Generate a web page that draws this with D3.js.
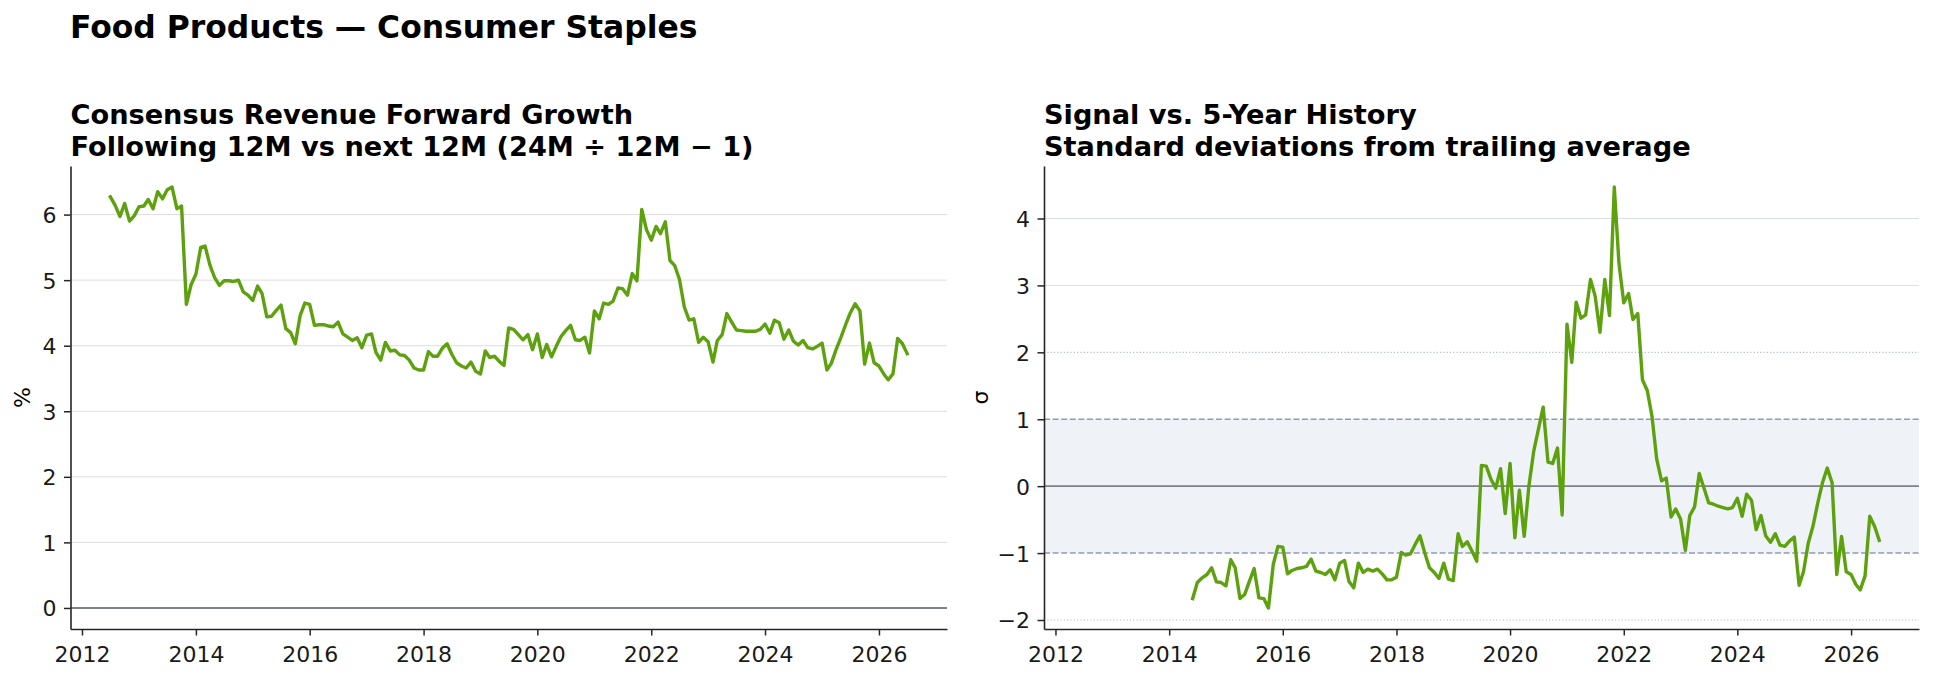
<!DOCTYPE html>
<html><head><meta charset="utf-8">
<script src="https://cdn.jsdelivr.net/npm/d3@7"></script>
<style>
body{margin:0;background:#fff;}
svg{display:block;font-family:"DejaVu Sans",sans-serif;}
</style></head><body>
<svg id="c" width="1934" height="679"></svg>
<script>
// ---------------- data ----------------
const startYear = 2012, startMonthIndex = 6; // July 2012, monthly observations
const growthPct = [
 6.27, 6.14, 5.97, 6.17, 5.90, 5.98, 6.12, 6.13, 6.23, 6.09,
 6.35, 6.24, 6.38, 6.42, 6.09, 6.13, 4.63, 4.93, 5.09, 5.50,
 5.52, 5.23, 5.04, 4.92, 4.99, 4.99, 4.98, 5.00, 4.82, 4.77,
 4.69, 4.91, 4.80, 4.44, 4.45, 4.54, 4.62, 4.26, 4.20, 4.03,
 4.46, 4.65, 4.63, 4.31, 4.32, 4.32, 4.30, 4.29, 4.36, 4.18,
 4.13, 4.08, 4.12, 3.97, 4.16, 4.18, 3.90, 3.78, 4.05, 3.92,
 3.93, 3.86, 3.85, 3.78, 3.66, 3.63, 3.63, 3.91, 3.84, 3.84,
 3.96, 4.03, 3.87, 3.74, 3.69, 3.66, 3.75, 3.61, 3.57, 3.92,
 3.82, 3.84, 3.76, 3.70, 4.27,
 4.25, 4.17, 4.09, 4.17, 3.94, 4.18, 3.82, 4.02, 3.83, 3.99,
 4.14, 4.23, 4.31, 4.09, 4.08, 4.13, 3.89, 4.53, 4.41, 4.65,
 4.63, 4.68, 4.88, 4.87, 4.77, 5.10, 4.99, 6.08, 5.77, 5.61,
 5.82, 5.71, 5.89, 5.30, 5.22, 5.01, 4.59, 4.39, 4.41, 4.05,
 4.13, 4.06, 3.75, 4.08, 4.17, 4.49, 4.36, 4.24, 4.23, 4.22,
 4.22, 4.22, 4.25, 4.33, 4.19, 4.39, 4.35, 4.10, 4.24, 4.07,
 4.01, 4.08, 3.97, 3.95, 3.99, 4.04, 3.63, 3.73, 3.94, 4.12,
 4.32, 4.50, 4.64, 4.53, 3.72, 4.04, 3.74, 3.69, 3.57, 3.48,
 3.57, 4.11, 4.03, 3.88
];
const sigmaStartIndex = 23; // z-score starts once enough history exists
const sigmaValues = [
 -1.68, -1.44, -1.37, -1.32, -1.22, -1.43, -1.44, -1.49, -1.10, -1.22,
 -1.68, -1.62, -1.42, -1.23, -1.67, -1.68, -1.82, -1.17, -0.90, -0.91,
 -1.31, -1.26, -1.23, -1.22, -1.20, -1.09, -1.27, -1.29, -1.32, -1.25,
 -1.40, -1.15, -1.11, -1.42, -1.52, -1.15, -1.29, -1.24, -1.27, -1.24,
 -1.31, -1.40, -1.40, -1.36, -0.99, -1.03, -1.01, -0.87, -0.74, -0.99,
 -1.22, -1.29, -1.38, -1.15, -1.39, -1.41, -0.71, -0.90, -0.83, -0.97,
 -1.12, 0.31, 0.30, 0.10, -0.03, 0.26, -0.41, 0.34,
 -0.77, -0.06, -0.75, 0.00, 0.52, 0.85, 1.18, 0.36, 0.34, 0.57, -0.43,
 2.42, 1.85, 2.75, 2.51, 2.56, 3.09, 2.84, 2.30, 3.09, 2.55, 4.47, 3.33, 2.74, 2.88, 2.49, 2.58, 1.59, 1.43,
 1.05, 0.40, 0.08, 0.12, -0.46, -0.34, -0.49, -0.96, -0.44, -0.31,
 0.19, -0.03, -0.25, -0.27, -0.30, -0.32, -0.34, -0.32, -0.18, -0.45,
 -0.12, -0.21, -0.65, -0.44, -0.74, -0.84, -0.71, -0.88, -0.90, -0.82,
 -0.76, -1.48, -1.28, -0.85, -0.60, -0.25, 0.05, 0.27, 0.05, -1.32,
 -0.75, -1.28, -1.32, -1.47, -1.55, -1.34, -0.45, -0.60, -0.81
];
const growthTicks = [0, 1, 2, 3, 4, 5, 6];
const sigmaTicks = [-2, -1, 0, 1, 2, 3, 4];
const sigmaBand = [-1, 1];
const sigmaDotted = [-2, 2];
const yearTicks = [2012, 2014, 2016, 2018, 2020, 2022, 2024, 2026];
const suptitle = "Food Products — Consumer Staples";
const leftTitle = ["Consensus Revenue Forward Growth", "Following 12M vs next 12M (24M ÷ 12M − 1)"];
const rightTitle = ["Signal vs. 5-Year History", "Standard deviations from trailing average"];
const leftYLabel = "%";
const rightYLabel = "σ";

// ---------------- build ----------------
const start = new Date(Date.UTC(startYear, startMonthIndex, 1));
const dateAt = i => d3.utcMonth.offset(start, i);
const growth = growthPct.map((v, i) => ({d: dateAt(i), v}));
const sigma = sigmaValues.map((v, i) => ({d: dateAt(sigmaStartIndex + i), v}));

const svg = d3.select("#c");
const LINE = "#5ea10e";
const SPINE = "#262626";
const FS_TICK = 22;

const t0 = +growth[0].d, t1 = +growth[growth.length - 1].d;
const xPad = (t1 - t0) * 0.05;
const xDomain = [new Date(t0 - xPad), new Date(t1 + xPad)];

function padDomain(lo, hi) { const p = (hi - lo) * 0.05; return [lo - p, hi + p]; }

function panel(box, data, yDomain, ticks, opts) {
  const g = svg.append("g").attr("transform", `translate(${box.x},${box.y})`);
  const x = d3.scaleUtc().domain(xDomain).range([0, box.w]);
  const y = d3.scaleLinear().domain(yDomain).range([box.h, 0]);

  if (opts.band) {
    g.append("rect").attr("x", 0).attr("width", box.w)
      .attr("y", y(opts.band[1])).attr("height", y(opts.band[0]) - y(opts.band[1]))
      .attr("fill", "#eff3f8");
  }
  // grid
  g.append("g").selectAll("line").data(ticks.filter(t => !opts.noGrid.includes(t))).join("line")
    .attr("x1", 0).attr("x2", box.w).attr("y1", d => y(d)).attr("y2", d => y(d))
    .attr("stroke", opts.gridColor).attr("stroke-width", 1);
  if (opts.dotted) {
    g.append("g").selectAll("line").data(opts.dotted).join("line")
      .attr("x1", 0).attr("x2", box.w).attr("y1", d => y(d)).attr("y2", d => y(d))
      .attr("stroke", "#b6bfd2").attr("stroke-width", 1.2).attr("stroke-dasharray", "1.3,2");
  }
  if (opts.band) {
    g.append("g").selectAll("line").data(opts.band).join("line")
      .attr("x1", 0).attr("x2", box.w).attr("y1", d => y(d)).attr("y2", d => y(d))
      .attr("stroke", "#8f9cb6").attr("stroke-width", 1.5).attr("stroke-dasharray", "6,2.6");
  }
  g.append("line").attr("x1", 0).attr("x2", box.w).attr("y1", y(0)).attr("y2", y(0))
    .attr("stroke", "#7e818b").attr("stroke-width", 1.9);

  g.append("path").datum(data)
    .attr("fill", "none").attr("stroke", LINE).attr("stroke-width", 3.4)
    .attr("stroke-linejoin", "round").attr("stroke-linecap", "square")
    .attr("d", d3.line().x(d => x(d.d)).y(d => y(d.v)));

  // axes
  const xa = g.append("g").attr("transform", `translate(0,${box.h})`)
    .call(d3.axisBottom(x).tickValues(yearTicks.map(yy => new Date(Date.UTC(yy, 0, 1))))
      .tickFormat(d3.utcFormat("%Y")).tickSize(6.5).tickSizeOuter(0));
  const ya = g.append("g")
    .call(d3.axisLeft(y).tickValues(ticks).tickFormat(d3.format("d")).tickSize(6.5).tickSizeOuter(0).tickPadding(7.5));
  [xa, ya].forEach(a => {
    a.attr("font-size", null).attr("font-family", null);
    a.select(".domain").attr("stroke", SPINE).attr("stroke-width", 1.6);
    a.selectAll(".tick line").attr("stroke", SPINE).attr("stroke-width", 1.5);
    a.selectAll(".tick text").attr("fill", "#1a1a1a").style("font-size", FS_TICK + "px");
  });
  xa.selectAll(".tick text").attr("y", 33).attr("dy", 0);
  ya.selectAll(".tick text").attr("dy", "0.36em");

  // titles
  const tt = svg.append("text").attr("x", box.x).attr("font-weight", "bold")
    .style("font-size", "27.2px").attr("fill", "#000");
  opts.title.forEach((s, i) => tt.append("tspan").attr("x", box.x).attr("y", 124 + i * 31.5).text(s));
  svg.append("text").attr("transform", `translate(${opts.ylabX},${box.y + box.h / 2}) rotate(-90)`)
    .attr("text-anchor", "middle").style("font-size", "22px").attr("fill", "#000").text(opts.ylabel);
}

panel({x: 70.5, y: 166, w: 876.5, h: 463}, growth,
  padDomain(Math.min(0, d3.min(growthPct)), d3.max(growthPct)), growthTicks,
  {noGrid: [0], gridColor: "#dedede", title: leftTitle, ylabel: leftYLabel, ylabX: 30});

panel({x: 1044, y: 166, w: 875, h: 463}, sigma,
  padDomain(d3.min(sigmaValues), d3.max(sigmaValues)), sigmaTicks,
  {noGrid: [-2, -1, 0, 1, 2], gridColor: "#dcdee6", band: sigmaBand, dotted: sigmaDotted,
   title: rightTitle, ylabel: rightYLabel, ylabX: 988});

svg.append("text").attr("x", 70).attr("y", 37.5).attr("font-weight", "bold")
  .style("font-size", "31.4px").attr("fill", "#000").text(suptitle);
</script>
</body></html>
